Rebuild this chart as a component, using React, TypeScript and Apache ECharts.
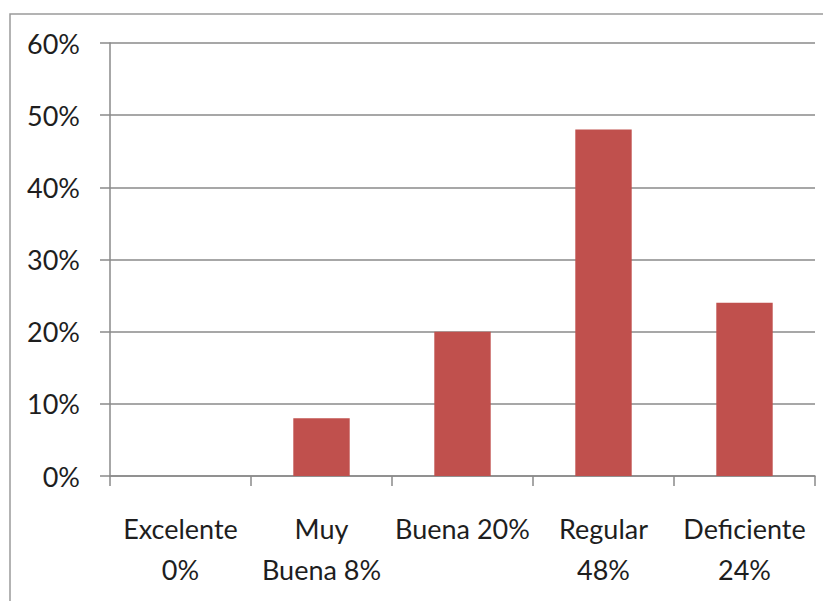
import React, { useEffect, useRef } from "react";
import * as echarts from "echarts";

const categories = ["Excelente\n0%", "Muy\nBuena 8%", "Buena 20%", "Regular\n48%", "Deficiente\n24%"];
const values = [0, 8, 20, 48, 24];
const yMax = 60;
const yStep = 10;

const FONT = "Lato, 'Noto Sans', sans-serif";
const AXIS_COLOR = "#8a8a8a";

export default function App() {
  const ref = useRef<HTMLDivElement>(null);

  useEffect(() => {
    if (!ref.current) return;
    const chart = echarts.init(ref.current, null, { renderer: "svg" });
    chart.setOption({
      animation: false,
      backgroundColor: "#ffffff",
      graphic: [
        {
          type: "rect",
          shape: { x: 10, y: 14, width: 900, height: 700 },
          style: { fill: "none", stroke: "#9a9a9a", lineWidth: 1.5 },
          silent: true,
        },
      ],
      grid: { left: 110, right: 8, top: 43, bottom: 125, containLabel: false },
      xAxis: {
        type: "category",
        data: categories,
        boundaryGap: true,
        axisLine: { show: true, lineStyle: { color: AXIS_COLOR, width: 1.5 } },
        axisTick: { show: true, length: 10, alignWithLabel: false, lineStyle: { color: AXIS_COLOR, width: 1.5 } },
        axisLabel: {
          interval: 0,
          margin: 32,
          fontFamily: FONT,
          fontSize: 27,
          lineHeight: 41,
          color: "#1e1e1e",
          align: "center",
        },
      },
      yAxis: {
        type: "value",
        min: 0,
        max: yMax,
        interval: yStep,
        axisLine: { show: true, lineStyle: { color: AXIS_COLOR, width: 1.5 } },
        axisTick: { show: true, length: 10, lineStyle: { color: AXIS_COLOR, width: 1.5 } },
        splitLine: { show: true, lineStyle: { color: AXIS_COLOR, width: 1.5 } },
        axisLabel: {
          margin: 30,
          fontFamily: FONT,
          fontSize: 27,
          color: "#1e1e1e",
          formatter: (v: number) => `${v}%`,
        },
      },
      series: [
        {
          type: "bar",
          data: values,
          barWidth: "40%",
          itemStyle: { color: "#C0504D" },
        },
      ],
    });
    return () => chart.dispose();
  }, []);

  return (
    <div
      ref={ref}
      style={{ position: "fixed", left: 0, top: 0, width: 823, height: 601 }}
    />
  );
}
